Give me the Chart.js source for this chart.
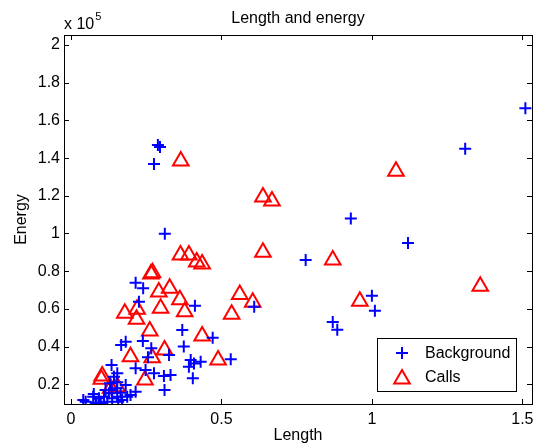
<!DOCTYPE html>
<html>
<head>
<meta charset="utf-8">
<script src="https://cdn.jsdelivr.net/npm/chart.js@4/dist/chart.umd.min.js"></script>
<style>
  html, body { margin: 0; padding: 0; background: #fff; }
  #wrap { width: 539px; height: 445px; }
</style>
</head>
<body>
<div id="wrap"><canvas id="c" width="539" height="445"></canvas></div>
<script>
// Length vs. energy of detected sound events
const chartTitle = 'Length and energy';
const xLabel = 'Length';
const yLabel = 'Energy';
const seriesNames = ['Background', 'Calls'];

const xTicks = [0, 0.5, 1, 1.5];
const yTicks = [20000, 40000, 60000, 80000, 100000, 120000, 140000, 160000, 180000, 200000];
const yExponent = 5;

const bgLength = [0.289, 0.296, 0.276, 0.312, 1.31, 1.51, 0.93, 1.12, 0.78, 1.00,
  1.01, 0.87, 0.885, 0.609, 0.215, 0.240, 0.226, 0.412, 0.370, 0.375,
  0.471, 0.182, 0.167, 0.239, 0.267, 0.256, 0.326, 0.531, 0.398, 0.409,
  0.392, 0.431, 0.405, 0.135, 0.215, 0.248, 0.276, 0.309, 0.331, 0.311,
  0.154, 0.143, 0.154, 0.182, 0.130, 0.152, 0.135, 0.115, 0.126, 0.165,
  0.215, 0.198, 0.187, 0.154, 0.137, 0.110, 0.093, 0.074, 0.076, 0.041,
  0.049, 0.082, 0.099, 0.121, 0.157, 0.170, 0.085];
const bgEnergy = [146900, 145900, 136900, 99800, 145000, 166500, 108000, 95000, 86000, 67000,
  59000, 53000, 49000, 61200, 73900, 70900, 63800, 61700, 48800, 40000,
  44700, 42600, 40800, 43000, 39100, 34300, 35500, 33300, 32900, 31100,
  29300, 32000, 23200, 30200, 28500, 27600, 25800, 24400, 24900, 17000,
  25800, 24000, 21100, 19600, 20500, 17900, 17000, 17000, 15200, 15500,
  16100, 14300, 13400, 13400, 12600, 13400, 12600, 13400, 14900, 11700,
  10800, 10200, 9900, 10800, 10800, 11700, 9700];

const callLength = [0.365, 0.638, 0.668, 1.08, 0.638, 0.87, 1.36, 0.96, 0.364, 0.392,
  0.418, 0.436, 0.271, 0.266, 0.292, 0.328, 0.362, 0.298, 0.378, 0.179,
  0.220, 0.218, 0.561, 0.604, 0.534, 0.262, 0.436, 0.198, 0.270, 0.311,
  0.489, 0.246, 0.104, 0.101, 0.154, 0.132];
const callEnergy = [138400, 119300, 117200, 133000, 90000, 86000, 72000, 64000, 88600, 88600,
  84900, 83800, 79200, 78500, 69000, 70900, 64800, 60300, 58500, 57700,
  59800, 54500, 67700, 63500, 57100, 48300, 45600, 34600, 34100, 38200,
  32900, 22300, 24400, 22700, 18700, 17900];

const FONT = "'Liberation Sans', Arial, Helvetica, sans-serif";
const toPoints = (xs, ys) => xs.map((x, i) => ({ x: x, y: ys[i] }));

// Closed box with inward tick marks on all four sides, plus title and exponent
const framePlugin = {
  id: 'frame',
  afterDraw(chart) {
    const { ctx, chartArea: a, scales } = chart;
    ctx.save();
    ctx.strokeStyle = '#000';
    ctx.lineWidth = 1;
    ctx.beginPath();
    const tl = 5;
    scales.x.ticks.forEach(t => {
      const px = Math.round(scales.x.getPixelForValue(t.value)) + 0.5;
      ctx.moveTo(px, a.bottom); ctx.lineTo(px, a.bottom - tl);
      ctx.moveTo(px, a.top); ctx.lineTo(px, a.top + tl);
    });
    scales.y.ticks.forEach(t => {
      const py = Math.round(scales.y.getPixelForValue(t.value)) + 0.5;
      ctx.moveTo(a.left, py); ctx.lineTo(a.left + tl, py);
      ctx.moveTo(a.right, py); ctx.lineTo(a.right - tl, py);
    });
    ctx.stroke();
    ctx.strokeRect(Math.round(a.left) + 0.5, Math.round(a.top) + 0.5,
      Math.round(a.right - a.left), Math.round(a.bottom - a.top));

    ctx.fillStyle = '#000';
    ctx.textBaseline = 'alphabetic';
    ctx.textAlign = 'center';
    ctx.font = '16px ' + FONT;
    ctx.fillText(chartTitle, (a.left + a.right) / 2, 23);

    ctx.textAlign = 'left';
    ctx.font = '16px ' + FONT;
    ctx.fillText('x 10', a.left, 29);
    const w = ctx.measureText('x 10').width;
    ctx.font = '11px ' + FONT;
    ctx.fillText(String(yExponent), a.left + w + 1, 20);
    ctx.restore();
  }
};

// Boxed legend in the lower-right corner of the plot area
const legendPlugin = {
  id: 'boxLegend',
  afterDraw(chart) {
    const { ctx, chartArea: a } = chart;
    const bw = 139, bh = 53;
    const bx = Math.round(a.right - 16 - bw), by = Math.round(a.bottom - 13 - bh);
    ctx.save();
    ctx.fillStyle = '#fff';
    ctx.fillRect(bx, by, bw, bh);
    ctx.strokeStyle = '#000';
    ctx.lineWidth = 1;
    ctx.strokeRect(bx + 0.5, by + 0.5, bw, bh);
    chart.data.datasets.forEach((ds, i) => {
      const cy = by + 15 + i * 24;
      const mx = bx + 25;
      ctx.strokeStyle = ds.borderColor;
      ctx.fillStyle = 'rgba(0,0,0,0)';
      ctx.lineWidth = ds.borderWidth;
      Chart.helpers.drawPoint(ctx, {
        pointStyle: ds.pointStyle, radius: ds.pointRadius, borderWidth: ds.borderWidth, rotation: 0
      }, mx, ds.pointStyle === 'triangle' ? cy + 2 : cy);
      ctx.fillStyle = '#000';
      ctx.font = '16px ' + FONT;
      ctx.textAlign = 'left';
      ctx.textBaseline = 'middle';
      ctx.fillText(ds.label, bx + 48, cy + 1);
    });
    ctx.restore();
  }
};

new Chart(document.getElementById('c'), {
  type: 'scatter',
  data: {
    datasets: [
      {
        label: seriesNames[0],
        data: toPoints(bgLength, bgEnergy),
        pointStyle: 'cross',
        pointRadius: 6,
        borderWidth: 2,
        borderColor: '#0000ff',
        backgroundColor: '#0000ff'
      },
      {
        label: seriesNames[1],
        data: toPoints(callLength, callEnergy),
        pointStyle: 'triangle',
        pointRadius: 9,
        borderWidth: 2,
        borderColor: '#ff0000',
        backgroundColor: 'rgba(0,0,0,0)'
      }
    ]
  },
  options: {
    responsive: false,
    animation: false,
    devicePixelRatio: 1,
    layout: { autoPadding: false, padding: { top: 35, right: 7, left: 0, bottom: 0 } },
    plugins: {
      legend: { display: false },
      title: { display: false },
      tooltip: { enabled: false }
    },
    elements: { point: { hoverRadius: 6 } },
    scales: {
      x: {
        type: 'linear',
        min: -0.023,
        max: 1.532,
        grid: { display: false, drawTicks: false },
        border: { display: false },
        afterBuildTicks: s => { s.ticks = xTicks.map(v => ({ value: v })); },
        afterFit: s => { s.height = 41; s.paddingLeft = 0; s.paddingRight = 0; },
        ticks: {
          color: '#000',
          font: { family: FONT, size: 16 },
          padding: 6,
          maxRotation: 0,
          callback: v => String(v)
        },
        title: {
          display: true,
          text: xLabel,
          color: '#000',
          font: { family: FONT, size: 16 },
          padding: { top: 0, bottom: 0 }
        }
      },
      y: {
        type: 'linear',
        min: 9550,
        max: 205300,
        grid: { display: false, drawTicks: false },
        border: { display: false },
        afterBuildTicks: s => { s.ticks = yTicks.map(v => ({ value: v })); },
        afterFit: s => { s.width = 64; s.paddingTop = 0; s.paddingBottom = 0; },
        ticks: {
          color: '#000',
          font: { family: FONT, size: 16 },
          padding: 4,
          callback: v => String(Math.round(v / Math.pow(10, yExponent - 1)) / 10)
        },
        title: {
          display: true,
          text: yLabel,
          color: '#000',
          font: { family: FONT, size: 16 },
          padding: { top: 12, bottom: 0 }
        }
      }
    }
  },
  plugins: [framePlugin, legendPlugin]
});
</script>
</body>
</html>
